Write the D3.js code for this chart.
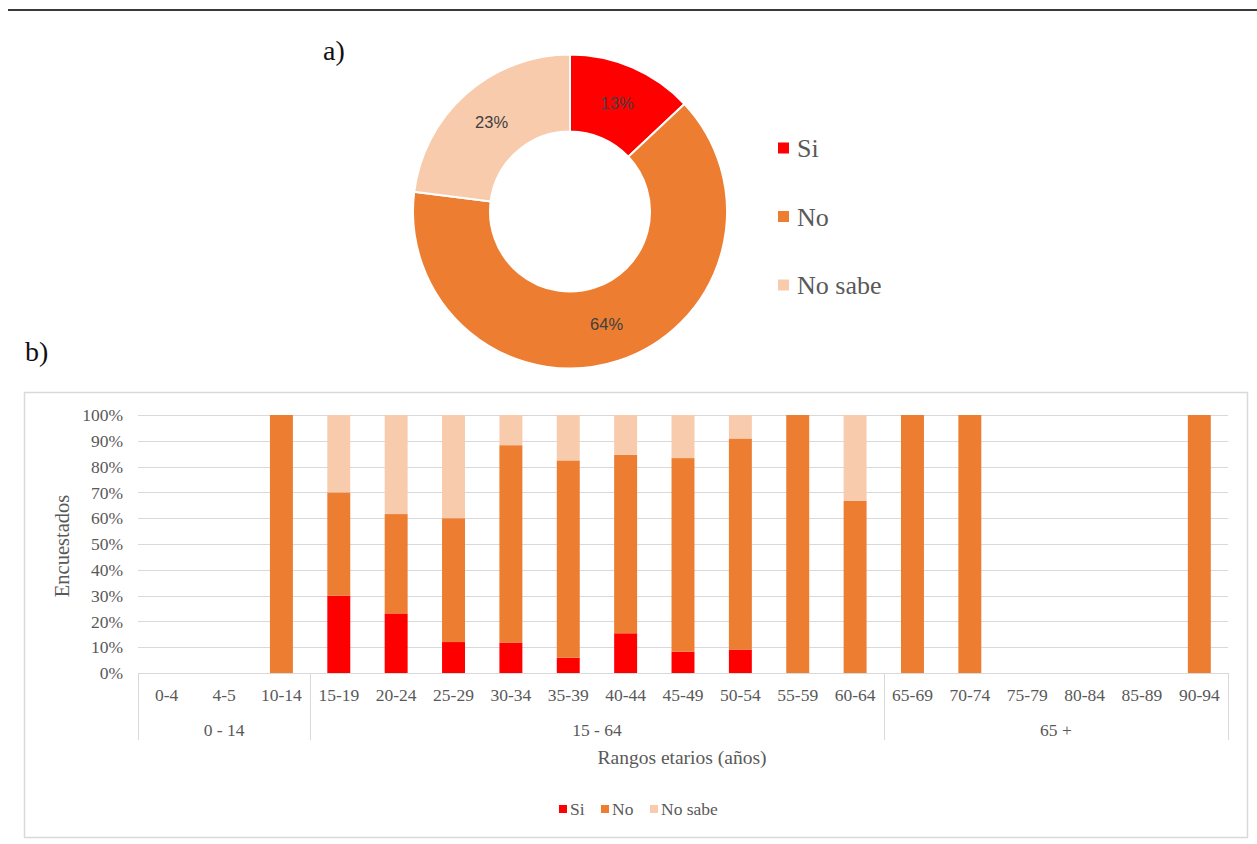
<!DOCTYPE html>
<html>
<head>
<meta charset="utf-8">
<script src="https://cdn.jsdelivr.net/npm/d3@7"></script>
<style>
  html, body { margin: 0; padding: 0; background: #fff; }
  svg { display: block; }
</style>
</head>
<body>
<svg id="chart" width="1257" height="844"></svg>
<script>
// Panel a) overall answer shares
const answerLabels = ["Si", "No", "No sabe"];
const answerShares = [13, 64, 23];
const answerColors = ["#FF0000", "#ED7D31", "#F8CBAD"];

// Panel b) answers by age range (% of respondents)
const ageRanges = ["0-4", "4-5", "10-14", "15-19", "20-24", "25-29", "30-34", "35-39", "40-44",
  "45-49", "50-54", "55-59", "60-64", "65-69", "70-74", "75-79", "80-84", "85-89", "90-94"];
const siValues     = [0, 0, 0,   30, 23.1, 12, 11.8, 5.9, 15.4, 8.3, 9.1, 0, 0,    0, 0, 0, 0, 0, 0];
const noValues     = [0, 0, 100, 40, 38.5, 48, 76.5, 76.5, 69.2, 75, 81.8, 100, 66.7, 100, 100, 0, 0, 0, 100];
const noSabeValues = [0, 0, 0,   30, 38.4, 40, 11.7, 17.6, 15.4, 16.7, 9.1, 0, 33.3, 0, 0, 0, 0, 0, 0];
const ageGroups = [
  { label: "0 - 14", first: "0-4", last: "10-14" },
  { label: "15 - 64", first: "15-19", last: "60-64" },
  { label: "65 +", first: "65-69", last: "90-94" }
];
const yTicks = [0, 10, 20, 30, 40, 50, 60, 70, 80, 90, 100];

const svg = d3.select("#chart");
const serif = "'Liberation Serif', 'Times New Roman', serif";
const textGray = "#595959";
const gridGray = "#d9d9d9";

// Rule across the top of the figure
svg.append("line").attr("x1", 8).attr("x2", 1257).attr("y1", 10).attr("y2", 10)
  .attr("stroke", "#3a3a3a").attr("stroke-width", 2);

// Panel letters
svg.append("text").attr("x", 323).attr("y", 60).text("a)")
  .attr("font-family", serif).attr("font-size", 28).attr("fill", "#111");
svg.append("text").attr("x", 25).attr("y", 361).text("b)")
  .attr("font-family", serif).attr("font-size", 28).attr("fill", "#111");

// ---------- Donut ----------
const donut = svg.append("g").attr("transform", "translate(570,211.5)");
const pie = d3.pie().sort(null).value(d => d.value);
const donutData = pie(answerLabels.map((l, i) => ({ label: l, value: answerShares[i], color: answerColors[i] })));
const arc = d3.arc().innerRadius(80).outerRadius(157);
donut.selectAll("path").data(donutData).join("path")
  .attr("d", arc).attr("fill", d => d.data.color)
  .attr("stroke", "#fff").attr("stroke-width", 2);
const labelArc = d3.arc().innerRadius(118.5).outerRadius(118.5);
donut.selectAll("text").data(donutData).join("text")
  .attr("transform", d => `translate(${labelArc.centroid(d)})`)
  .attr("text-anchor", "middle").attr("dy", "0.35em")
  .attr("font-family", "'Liberation Sans', Arial, sans-serif").attr("font-size", 16.5)
  .attr("fill", "#404040")
  .text(d => d.data.value + "%");

// Donut legend
const donutLegend = svg.append("g").attr("transform", "translate(778,148)");
answerLabels.forEach((l, i) => {
  const g = donutLegend.append("g").attr("transform", `translate(0,${i * 68.5})`);
  g.append("rect").attr("x", 0).attr("y", -5.5).attr("width", 11).attr("height", 11).attr("fill", answerColors[i]);
  g.append("text").attr("x", 19).attr("y", 0).attr("dy", "0.35em").text(l)
    .attr("font-family", serif).attr("font-size", 26).attr("fill", textGray);
});

// ---------- Stacked bar chart ----------
svg.append("rect").attr("x", 24.5).attr("y", 392.5).attr("width", 1223).attr("height", 445)
  .attr("fill", "none").attr("stroke", gridGray).attr("stroke-width", 1.5);

const plot = { left: 138, right: 1228, top: 415, bottom: 673 };
const x = d3.scaleBand().domain(ageRanges).range([plot.left, plot.right])
  .paddingInner(0.6).paddingOuter(0.3);
const y = d3.scaleLinear().domain([0, 100]).range([plot.bottom, plot.top]);

// Gridlines
svg.append("g").selectAll("line").data(yTicks).join("line")
  .attr("x1", plot.left).attr("x2", plot.right)
  .attr("y1", d => Math.round(y(d)) + 0.5).attr("y2", d => Math.round(y(d)) + 0.5)
  .attr("stroke", gridGray).attr("stroke-width", 1);

// Y axis labels
const yAxis = d3.axisLeft(y).tickValues(yTicks).tickSize(0).tickPadding(15).tickFormat(d => d + "%");
const yg = svg.append("g").attr("transform", `translate(${plot.left},0)`).call(yAxis);
yg.select(".domain").remove();
yg.selectAll("text").attr("font-family", serif).attr("font-size", 17.5).attr("fill", textGray);

// Stacks
const rows = ageRanges.map((r, i) => ({ range: r, si: siValues[i], no: noValues[i], nosabe: noSabeValues[i] }));
const keys = ["si", "no", "nosabe"];
const stack = d3.stack().keys(keys)(rows);
svg.append("g").selectAll("g").data(stack).join("g")
  .attr("fill", (d, i) => answerColors[i])
  .selectAll("rect").data(d => d.filter(s => s[1] - s[0] > 0)).join("rect")
  .attr("x", d => x(d.data.range))
  .attr("width", x.bandwidth())
  .attr("y", d => y(d[1]))
  .attr("height", d => y(d[0]) - y(d[1]));

// X axis: age range labels
const xAxis = d3.axisBottom(x).tickSize(0).tickPadding(16);
const xg = svg.append("g").attr("transform", `translate(0,${plot.bottom})`).call(xAxis);
xg.select(".domain").remove();
xg.selectAll("text").attr("font-family", serif).attr("font-size", 17.5).attr("fill", textGray);

// Group separators and group labels
const step = x.step();
const groupEdges = [plot.left];
ageGroups.forEach(g => groupEdges.push(x(g.last) + x.bandwidth() + step * x.paddingInner() / 2));
groupEdges[groupEdges.length - 1] = plot.right;
svg.append("g").selectAll("line").data(groupEdges).join("line")
  .attr("x1", d => Math.round(d) + 0.5).attr("x2", d => Math.round(d) + 0.5)
  .attr("y1", plot.bottom).attr("y2", 740)
  .attr("stroke", gridGray).attr("stroke-width", 1);
svg.append("g").selectAll("text").data(ageGroups).join("text")
  .attr("x", (d, i) => (groupEdges[i] + groupEdges[i + 1]) / 2)
  .attr("y", 730).attr("dy", "0.35em").attr("text-anchor", "middle")
  .attr("font-family", serif).attr("font-size", 17.5).attr("fill", textGray)
  .text(d => d.label);

// Axis titles
svg.append("text").attr("x", 682).attr("y", 757).attr("dy", "0.35em")
  .attr("text-anchor", "middle").attr("font-family", serif).attr("font-size", 19.5).attr("fill", textGray)
  .text("Rangos etarios (años)");
svg.append("text").attr("transform", `translate(62,${(plot.top + plot.bottom) / 2 + 2}) rotate(-90)`)
  .attr("dy", "0.35em").attr("text-anchor", "middle")
  .attr("font-family", serif).attr("font-size", 20.5).attr("fill", textGray)
  .text("Encuestados");

// Bottom legend
const legendItems = [
  { label: "Si", x: 559 },
  { label: "No", x: 601 },
  { label: "No sabe", x: 650 }
];
const bl = svg.append("g").attr("transform", "translate(0,809)");
legendItems.forEach((it, i) => {
  bl.append("rect").attr("x", it.x).attr("y", -4).attr("width", 8).attr("height", 8).attr("fill", answerColors[i]);
  bl.append("text").attr("x", it.x + 11).attr("y", 0).attr("dy", "0.35em").text(it.label)
    .attr("font-family", serif).attr("font-size", 17.5).attr("fill", textGray);
});
</script>
</body>
</html>
